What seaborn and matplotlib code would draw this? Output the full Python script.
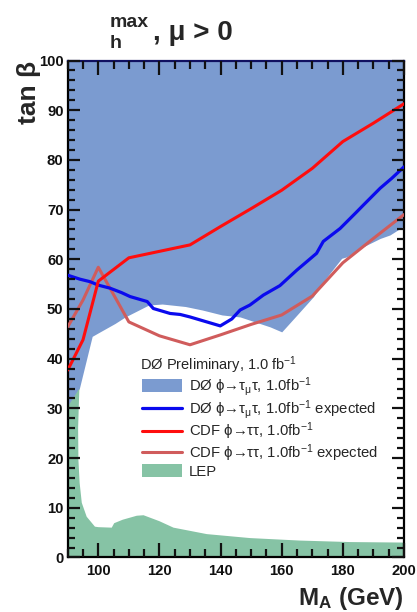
import numpy as np
import pandas as pd
import matplotlib
matplotlib.use("Agg")
import matplotlib.pyplot as plt
import seaborn as sns
from matplotlib.lines import Line2D
from matplotlib.patches import Patch
from matplotlib.ticker import MultipleLocator

# ---------------- data ----------------
# D0 phi->tau_mu tau observed exclusion: lower boundary (excluded up to 100)
d0_obs_mA = [90, 93.8, 98, 100, 105.5, 108.8, 116.5, 120.9, 128.5, 134, 140.5, 146.4,
             156.2, 160, 165, 170.4, 173.6, 179.6, 181.3, 185.6, 192.2, 195.4, 200]
d0_obs_tb = [30.3, 34.0, 44.5, 45.2, 47.1, 48.4, 50.8, 51.0, 50.5, 49.8, 48.8, 48.4,
             46.4, 45.4, 48.8, 52.5, 55.5, 60.2, 60.5, 62.2, 64.2, 64.9, 66.7]

# D0 expected
d0_exp_mA = [90, 94, 97.3, 100, 103.8, 107.6, 110.4, 116, 118, 120.2, 123.5, 126.8, 130,
             133.3, 139.9, 143.7, 146.4, 149.6, 154, 159.4, 164.9, 171.4, 173.6, 179.1,
             184.3, 186.7, 192.2, 196, 200]
d0_exp_tb = [56.8, 56.0, 55.5, 54.8, 54.2, 53.3, 52.5, 51.5, 50.1, 49.7, 49.1, 48.9, 48.4,
             47.8, 46.6, 48.0, 49.8, 50.8, 52.8, 54.7, 57.8, 61.2, 63.6, 66.2,
             69.4, 70.9, 74.3, 76.3, 78.6]

# CDF observed / expected
cdf_mA = [90, 95, 100, 110, 120, 130, 140, 150, 160, 170, 180, 190, 200]
cdf_obs_tb = [37.7, 43.8, 55.6, 60.3, 61.6, 62.9, 66.6, 70.2, 73.9, 78.3, 83.7, 87.4, 91.3]
cdf_exp_tb = [46.4, 51.8, 58.4, 47.4, 44.6, 42.8, 44.8, 46.9, 48.8, 52.6, 59.3, 64.2, 69.0]

# LEP excluded region (polygon outline)
lep_mA = [90, 90, 93.8, 93.4, 93.5, 93.9, 94.6, 96.2, 98.9, 100, 104.4, 105.2, 108,
          112.6, 114.8, 120, 124.6, 135.5, 149.7, 166, 182.4, 200, 200]
lep_tb = [0, 30.3, 34.0, 26.0, 19.6, 15.0, 11.0, 8.2, 6.2, 6.1, 6.0, 6.9, 7.6,
          8.4, 8.5, 7.3, 6.0, 4.7, 3.9, 3.4, 3.1, 3.0, 0]

legend_labels = [
    r"DØ ϕ→τ$_\mathregular{μ}$τ, 1.0fb$^\mathregular{-1}$",
    r"DØ ϕ→τ$_\mathregular{μ}$τ, 1.0fb$^\mathregular{-1}$ expected",
    r"CDF ϕ→ττ, 1.0fb$^\mathregular{-1}$",
    r"CDF ϕ→ττ, 1.0fb$^\mathregular{-1}$ expected",
    "LEP",
]

# ---------------- style ----------------
sns.set_theme(style="ticks")
plt.rcParams.update({
    'font.family': ['Liberation Sans', 'DejaVu Sans'],
    'mathtext.fontset': 'custom',
    'mathtext.rm': 'Liberation Sans',
    'mathtext.it': 'Liberation Sans:italic',
    'mathtext.bf': 'Liberation Sans:bold',
    'axes.unicode_minus': False,
    'xtick.direction': 'in', 'ytick.direction': 'in',
    'xtick.top': True, 'ytick.right': True,
    'xtick.minor.visible': True, 'ytick.minor.visible': True,
    'axes.axisbelow': False,
})

C_D0FILL = "#7b9bd0"
C_LEP = "#86c3a5"
C_D0EXP = "#0a0aee"
C_CDFOBS = "#ff0d0d"
C_CDFEXP = "#d05c5c"

fig = plt.figure(figsize=(4.17, 6.12), dpi=100)
ax = fig.add_axes([0.1624, 0.0891, 0.8064, 0.812])

# filled regions
ax.fill_between(d0_obs_mA, d0_obs_tb, 100, color=C_D0FILL, lw=0, zorder=0.5)
ax.fill(lep_mA, lep_tb, color=C_LEP, lw=0, zorder=0.6)

df_d0 = pd.DataFrame({"mA": d0_exp_mA, "tb": d0_exp_tb})
df_cdf = pd.DataFrame({"mA": cdf_mA, "obs": cdf_obs_tb, "exp": cdf_exp_tb})
sns.lineplot(data=df_cdf, x="mA", y="exp", color=C_CDFEXP, lw=2.2, sort=False, ax=ax, zorder=3)
sns.lineplot(data=df_d0, x="mA", y="tb", color=C_D0EXP, lw=2.3, sort=False, ax=ax, zorder=4)
sns.lineplot(data=df_cdf, x="mA", y="obs", color=C_CDFOBS, lw=2.2, sort=False, ax=ax, zorder=5)

ax.set_xlim(90, 200)
ax.set_ylim(0, 100)
ax.xaxis.set_major_locator(MultipleLocator(20))
ax.xaxis.set_minor_locator(MultipleLocator(5))
ax.yaxis.set_major_locator(MultipleLocator(10))
ax.yaxis.set_minor_locator(MultipleLocator(2))
ax.tick_params(axis='both', which='both', direction='in', top=True, right=True,
               bottom=True, left=True, colors='#111111')
ax.tick_params(axis='x', which='major', length=10, width=1.6, pad=5)
ax.tick_params(axis='x', which='minor', length=5.5, width=1.6)
ax.tick_params(axis='y', which='major', length=8.5, width=1.6, pad=3)
ax.tick_params(axis='y', which='minor', length=5, width=1.6)
for lab in ax.get_xticklabels() + ax.get_yticklabels():
    lab.set_fontweight('bold')
    lab.set_fontsize(10.7)
ax.xaxis.set_zorder(20)
ax.yaxis.set_zorder(20)
for s in ax.spines.values():
    s.set_linewidth(1.6)
    s.set_color('black')
ax.spines['top'].set_color('#101060')

ax.set_xlabel(r"M$_\mathbf{A}$ (GeV)", fontsize=17.5, fontweight='bold', loc='right')
ax.xaxis.set_label_coords(1.0, -0.056)
ax.set_ylabel("tan β", fontsize=19, fontweight='bold', loc='top')
ax.yaxis.set_label_coords(-0.078, 1.0)

# title
fig.text(110/417, 1 - 27/612, "max", fontsize=14, fontweight='bold', va='baseline', ha='left')
fig.text(110/417, 1 - 48/612, "h", fontsize=14, fontweight='bold', va='baseline', ha='left')
fig.text(153/417, 1 - 39.5/612, ", μ > 0", fontsize=20, fontweight='bold', va='baseline', ha='left')

# legend
ax.text((140 - 67.7)/336.3, (557.5 - 370)/497, r"DØ Preliminary, 1.0 fb$^\mathregular{-1}$",
        transform=ax.transAxes, fontsize=10.5, va='baseline', ha='left', zorder=12)
handles = [Patch(facecolor=C_D0FILL, edgecolor='none'),
           Line2D([], [], color=C_D0EXP, lw=2.3),
           Line2D([], [], color=C_CDFOBS, lw=2.2),
           Line2D([], [], color=C_CDFEXP, lw=2.2),
           Patch(facecolor=C_LEP, edgecolor='none')]
leg = ax.legend(handles, legend_labels, loc='upper left',
                bbox_to_anchor=((142 - 67.7)/336.3, (557.5 - 375)/497),
                frameon=False, fontsize=10.7, borderpad=0, borderaxespad=0,
                handlelength=2.7, handleheight=0.95, handletextpad=0.45,
                labelspacing=0.0)
leg.set_zorder(12)

fig.savefig("out.png", dpi=100)
